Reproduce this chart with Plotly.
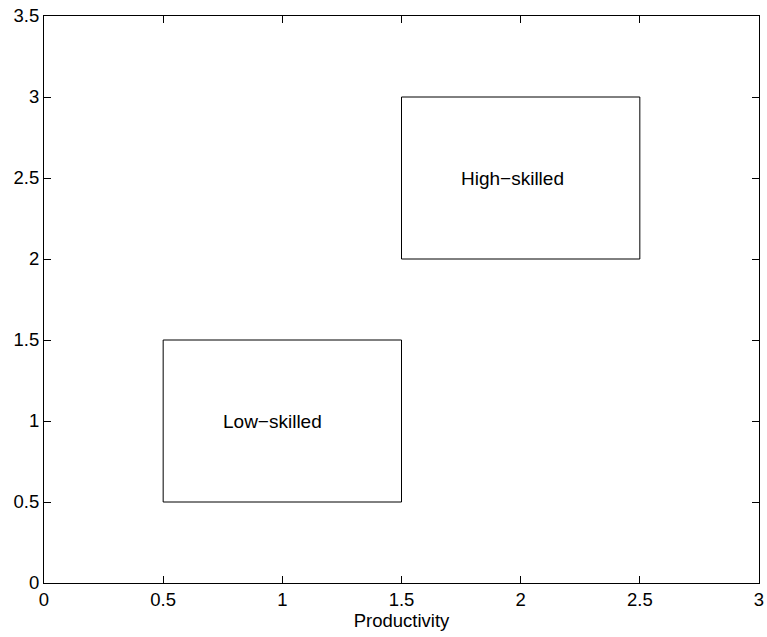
import plotly.graph_objects as go

# Skill groups: productivity range (x) and level range (y) for each box
groups = ["Low\u2212skilled", "High\u2212skilled"]
x_low = [0.5, 1.5]
x_high = [1.5, 2.5]
y_low = [0.5, 2.0]
y_high = [1.5, 3.0]

# Anchor (left edge, vertical middle) of each group's label
label_x = [0.75, 1.75]
label_y = [1.0, 2.5]

x_ticks = [0, 0.5, 1, 1.5, 2, 2.5, 3]
y_ticks = [0, 0.5, 1, 1.5, 2, 2.5, 3, 3.5]

FONT = "Liberation Sans, Arial, sans-serif"

fig = go.Figure()

for xa, xb, ya, yb in zip(x_low, x_high, y_low, y_high):
    fig.add_trace(go.Scatter(
        x=[xa, xb, xb, xa, xa],
        y=[ya, ya, yb, yb, ya],
        mode="lines",
        line=dict(color="black", width=1),
        hoverinfo="skip",
        showlegend=False,
    ))

for name, lx, ly in zip(groups, label_x, label_y):
    fig.add_annotation(
        x=lx, y=ly, text=name,
        xanchor="left", yanchor="middle",
        showarrow=False,
        xshift=-2,
        font=dict(family=FONT, size=19, color="black"),
    )

axis_common = dict(
    showline=True,
    linecolor="black",
    linewidth=1,
    mirror="ticks",
    ticks="inside",
    ticklen=7,
    tickcolor="black",
    tickwidth=1,
    showgrid=False,
    zeroline=False,
    automargin=False,
    tickfont=dict(family=FONT, size=18.5, color="black"),
)

fig.update_xaxes(
    range=[0, 3],
    tickvals=x_ticks,
    ticktext=[f"{v:g}" for v in x_ticks],
    title=dict(text="Productivity", standoff=0,
               font=dict(family=FONT, size=18.5, color="black")),
    **axis_common,
)
fig.update_yaxes(
    range=[0, 3.5],
    tickvals=y_ticks,
    ticktext=[f"{v:g}" for v in y_ticks],
    **axis_common,
)

fig.update_layout(
    width=767,
    height=637,
    margin=dict(l=44, r=8, t=16, b=54),
    plot_bgcolor="white",
    paper_bgcolor="white",
)

fig.write_html("out.html")
